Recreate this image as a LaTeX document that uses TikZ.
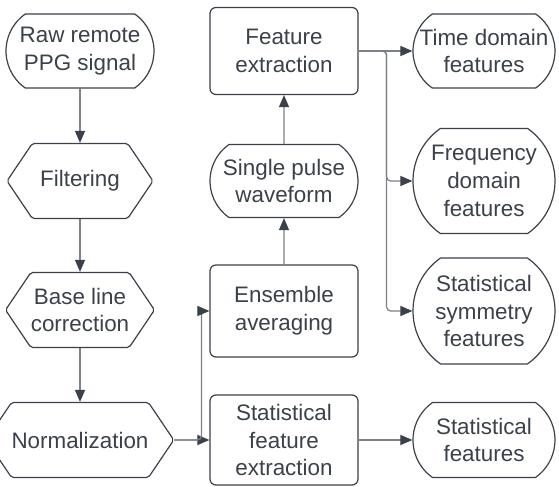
\documentclass[tikz,border=0pt]{standalone}
\usepackage{fontspec}
\setmainfont{Liberation Sans}
\usepackage{xcolor}
\usepackage{tikz}
\usetikzlibrary{positioning}
\usetikzlibrary{arrows.meta,shapes.misc,shapes.symbols}
\definecolor{ink}{HTML}{3A414A}
\definecolor{wire}{HTML}{7C8087}
\tikzstyle{stadium}=[rounded rectangle,rounded rectangle arc length=110,draw=ink,line width=0.6pt,inner sep=0pt,align=center]
\tikzstyle{hexa}=[signal,signal to=west and east,signal pointer angle=112,draw=ink,line width=0.6pt,inner sep=0pt,align=center,rounded corners=1pt]
\tikzstyle{box}=[rectangle,rounded corners=3pt,draw=ink,line width=0.6pt,inner sep=0pt,align=center]
\tikzstyle{conn}=[draw=wire,line width=0.6pt,-{Triangle[length=6pt,width=5pt,color=ink]},rounded corners=2pt]

\begin{document}
\begin{tikzpicture}[x=0.5pt,y=-0.5pt,font=\fontsize{11.2}{13.8}\selectfont,text=ink]

  \def\u{0.5pt}
  \useasboundingbox (0,0) rectangle (559,487);

  % left column
  \node[stadium,minimum width=148*\u,minimum height=74*\u] (raw) at (80,51) {Raw remote\\PPG signal};
  \foreach \y/\name/\label in {181/filt/Filtering, 310/base/{Base line\\correction}, 440/norm/Normalization}
    \node[hexa,minimum width=146*\u,minimum height=75*\u] (\name) at (80,\y) {\label};

  % middle column
  \foreach \y/\h/\name/\label in {51/87/featx/{Feature\\extraction}, 311/92/ens/{Ensemble\\averaging}, 440/90/statx/{Statistical\\feature\\extraction}}
    \node[box,minimum width=148*\u,minimum height=\h*\u] (\name) at (284,\y) {\label};
  \node[stadium,minimum width=148*\u,minimum height=73*\u] (pulse) at (284,181) {Single pulse\\waveform};

  % right column
  \foreach \y/\h/\name/\label in {51/74/time/{Time domain\\features}, 181/105/freq/{Frequency\\domain\\features}, 311/106/sym/{Statistical\\symmetry\\features}, 440/75/stat/{Statistical\\features}}
    \node[stadium,minimum width=142*\u,minimum height=\h*\u] (\name) at (484,\y) {\label};

  \foreach \source/\dest in {raw/filt, filt/base, base/norm}
    \path[conn,draw=ink] (\source) -- (\dest);
  \foreach \source/\dest in {ens/pulse, pulse/featx, norm/statx, statx/stat, featx/time}
    \path[conn] (\source) -- (\dest);

  \path[conn] (norm.east) -- ++(27,0) |- (ens.west);
  \path[conn] (featx.east) -- ++(28,0) |- (freq.west);
  \path[conn] (featx.east) -- ++(28,0) |- (sym.west);

\end{tikzpicture}
\end{document}
